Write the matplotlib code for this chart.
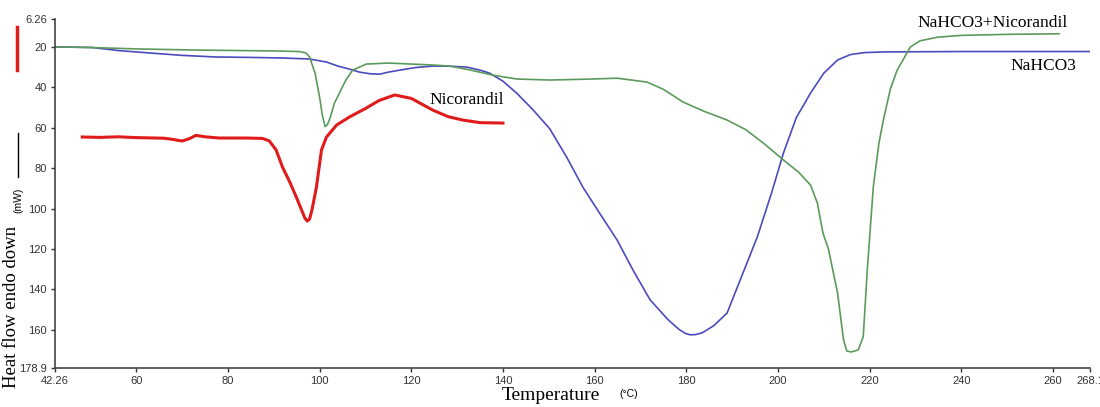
import matplotlib
matplotlib.use("Agg")
import matplotlib.pyplot as plt
from matplotlib.lines import Line2D

# Nicorandil (red)
nic_t = [48.2, 52, 56, 60, 66, 68, 70, 71.5, 73, 75, 78, 84, 87.5, 89, 90.5, 91.9, 93.5,
         94.9, 96.2, 96.8, 97.3, 97.8, 98.3, 99.3, 100.4, 101.5, 103.7, 106.5, 110, 113,
         116.4, 120, 124.7, 128, 131.2, 135, 140]
nic_y = [64.6, 64.8, 64.5, 64.9, 65.2, 65.8, 66.6, 65.5, 63.8, 64.5, 65.1, 65.1, 65.3, 66.5,
         71, 79.5, 87, 94.3, 101.5, 104.8, 106.2, 105.2, 101, 89.4, 71, 64.6, 58.7, 54.7,
         50.5, 46.5, 43.8, 45.5, 51.3, 54.5, 56.2, 57.5, 57.7]

# NaHCO3 + Nicorandil (green)
mix_t = [42.26, 50, 60, 73.7, 90, 95.6, 97, 97.8, 99, 100, 100.6, 101.2, 101.7, 102.3, 103.2,
         104.3, 105.7, 107.2, 110.2, 115, 120, 125, 128.4, 133, 137.8, 143, 150.2, 158,
         164.9, 171.4, 175, 179.3, 184, 188.9, 193, 196.8, 201.2, 204.5, 207.1, 208.6, 209.8,
         211, 213, 214.3, 215, 216, 217.5, 218.6, 219.5, 220.8, 222, 223, 224.5, 226, 228.9,
         231, 234.8, 240, 250, 261.3]
mix_y = [20, 20.3, 21, 21.6, 22, 22.3, 23, 25, 33, 45, 54, 59.5, 58.5, 55, 48, 42.9, 36.5,
         31.5, 28.5, 28, 28.5, 29, 29.5, 31.5, 34, 35.9, 36.4, 36, 35.5, 37.4, 41, 47.3, 52,
         56.2, 61, 67.6, 76, 82, 88.4, 97.3, 112, 120, 141.8, 165, 170.5, 171, 170, 163.5,
         130, 89.3, 68, 56.2, 41, 31.5, 20, 17, 15.2, 14.3, 13.8, 13.5]

# NaHCO3 (blue)
soda_t = [42.26, 50.4, 56, 62.8, 70, 77.4, 84.7, 92, 97.8, 101.5, 104, 106.5, 108.7, 111,
          113.1, 115, 117.5, 121, 124.7, 128, 132.1, 135, 137.1, 140, 143, 146.5, 150.2, 154,
          157.4, 161, 164.9, 168.5, 172.1, 176, 178.5, 179.8, 180.8, 182, 183.5, 186, 188.9,
          192, 195.5, 198.5, 201.2, 204, 207.1, 210, 213, 215.8, 219, 223, 240, 268.1]
soda_y = [20, 20.3, 21.8, 23, 24.2, 25, 25.2, 25.5, 26, 27.5, 29.5, 31, 32.5, 33.3, 33.5,
          32.5, 31.5, 30.2, 29.5, 29.5, 30, 31.5, 33, 37, 42.9, 51, 60.5, 75, 89.3, 102,
          115.6, 131, 145.2, 155, 160, 161.8, 162.5, 162.4, 161.5, 158, 151.7, 134, 114, 93,
          72.5, 55, 42.9, 33, 26.5, 23.8, 22.8, 22.5, 22.3, 22.3]

x_ticks = [42.26, 60, 80, 100, 120, 140, 160, 180, 200, 220, 240, 260, 268.1]
x_labels = ["42.26", "60", "80", "100", "120", "140", "160", "180", "200", "220", "240",
            "260", "268.1"]
y_ticks = [6.26, 20, 40, 60, 80, 100, 120, 140, 160, 178.9]
y_labels = ["6.26", "20", "40", "60", "80", "100", "120", "140", "160", "178.9"]

serif = ["Liberation Serif", "DejaVu Serif"]
sans = ["Liberation Sans", "DejaVu Sans"]

fig = plt.figure(figsize=(11, 4.07), dpi=100)
ax = fig.add_axes([0.05, 0.096, 0.941, 0.857])

ax.plot(soda_t, soda_y, color="#4b4bbd", lw=1.2)
ax.plot(mix_t, mix_y, color="#5c9a5c", lw=1.2)
ax.plot(nic_t, nic_y, color="#e01b1b", lw=2.2)

ax.set_xlim(42.26, 268.1)
ax.set_ylim(178.9, 6.26)
ax.set_xticks(x_ticks)
ax.set_xticklabels(x_labels, family=sans, fontsize=8, color="#333333")
ax.set_yticks(y_ticks)
ax.set_yticklabels(y_labels, family=sans, fontsize=8, color="#333333")
ax.tick_params(direction="out", length=3, width=1, color="#333333", pad=3)
for side in ["top", "right"]:
    ax.spines[side].set_visible(False)
for side in ["left", "bottom"]:
    ax.spines[side].set_color("#444444")
    ax.spines[side].set_linewidth(1.2)

# curve labels
ax.text(246.8, 8.0, "NaHCO3+Nicorandil", family=serif, fontsize=12.5,
        ha="center", va="center", clip_on=False)
ax.text(257.8, 29.5, "NaHCO3", family=serif, fontsize=12.5, ha="center", va="center")
ax.text(132.1, 46.3, "Nicorandil", family=serif, fontsize=12.5, ha="center", va="center")

# axis titles
fig.text(0.456, 0.029, "Temperature", family=serif, fontsize=14, ha="left", va="center")
fig.text(0.563, 0.031, "(\u00b0C)", family=sans, fontsize=7.5, ha="left", va="center")
fig.text(0.0105, 0.047, "Heat flow endo down", family=serif, fontsize=13.5,
         rotation=90, ha="center", va="bottom")
fig.text(0.017, 0.509, "(mW)", family=sans, fontsize=7.5, rotation=90,
         ha="center", va="center")
fig.add_artist(Line2D([0.0165, 0.0165], [0.565, 0.673], color="black", lw=1,
                      transform=fig.transFigure))
fig.add_artist(Line2D([0.0155, 0.0155], [0.828, 0.934], color="#e01b1b", lw=2.5,
                      transform=fig.transFigure))

fig.savefig("out.png", dpi=100)
